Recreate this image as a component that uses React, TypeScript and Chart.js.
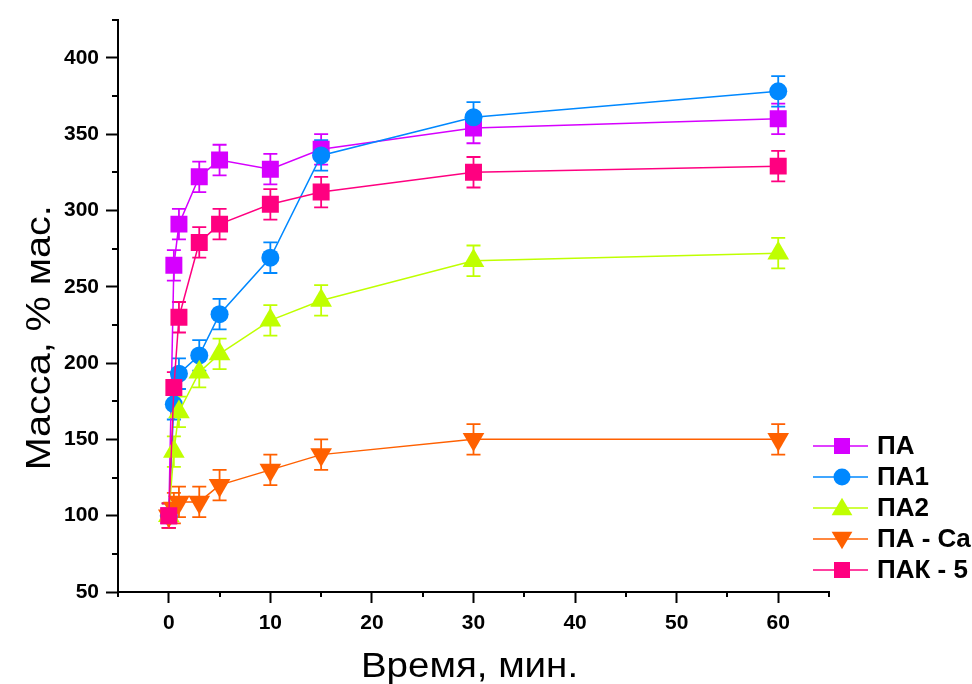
import React, { useEffect, useRef } from 'react';
import { Chart, registerables } from 'chart.js';

Chart.register(...registerables);

// ---- data ----
const times = [0, 0.5, 1, 3, 5, 10, 15, 30, 60];
const seriesNames = ['ПА', 'ПА1', 'ПА2', 'ПА - Ca', 'ПАК - 5'];
const paValues = [100, 264, 291, 322, 333, 327, 340, 354, 360];
const pa1Values = [100, 173, 193, 205, 232, 269, 336, 361, 378];
const pa2Values = [100, 142, 168, 194, 206, 228, 241, 267, 272];
const paCaValues = [100, 105, 109, 109, 120, 130, 140, 150, 150];
const pak5Values = [100, 184, 230, 279, 291, 304, 312, 325, 329];
const paErrors = [8, 10, 10, 10, 10, 10, 10, 10, 10];
const pa1Errors = [8, 10, 10, 10, 10, 10, 10, 10, 10];
const pa2Errors = [8, 10, 10, 10, 10, 10, 10, 10, 10];
const paCaErrors = [8, 10, 10, 10, 10, 10, 10, 10, 10];
const pak5Errors = [8, 10, 10, 10, 10, 10, 10, 10, 10];
const xMin = -5;
const xMax = 65;
const xStep = 5;
const xLabelStep = 10;
const yMin = 50;
const yMax = 425;
const yStep = 25;
const yLabelStep = 50;
const xTitle = 'Время, мин.';
const yTitle = 'Масса, % мас.';

const seriesValues = [paValues, pa1Values, pa2Values, paCaValues, pak5Values];
const seriesErrors = [paErrors, pa1Errors, pa2Errors, paCaErrors, pak5Errors];
const seriesColors = ['#D600FF', '#0088FF', '#BFFF00', '#FF6000', '#FF0080'];
const seriesStyles = ['rect', 'circle', 'triangle', 'triangle', 'rect'];
const seriesRotation = [0, 0, 0, 180, 0];
const seriesRadius = [12, 9, 12.5, 12.5, 12];

const FONT = '"Liberation Sans", Arial, sans-serif';

function isMult(v: number, step: number) {
  return Math.abs(v / step - Math.round(v / step)) < 1e-6;
}

function drawMarker(ctx: CanvasRenderingContext2D, style: string, rot: number, x: number, y: number, color: string) {
  ctx.save();
  ctx.fillStyle = color;
  ctx.beginPath();
  if (style === 'rect') {
    ctx.rect(x - 8, y - 8, 16, 16);
  } else if (style === 'circle') {
    ctx.arc(x, y, 8.5, 0, Math.PI * 2);
  } else {
    const r = 12;
    const dir = rot === 180 ? -1 : 1;
    const w = r * Math.sqrt(3) / 2;
    ctx.moveTo(x, y - dir * r * 0.85);
    ctx.lineTo(x + w, y + dir * r * 0.6);
    ctx.lineTo(x - w, y + dir * r * 0.6);
    ctx.closePath();
  }
  ctx.fill();
  ctx.restore();
}

const errorBarPlugin = {
  id: 'errorBars',
  beforeDatasetsDraw(chart: any) {
    const ctx = chart.ctx;
    const xs = chart.scales.x;
    const ys = chart.scales.y;
    ctx.save();
    seriesValues.forEach((vals, i) => {
      ctx.strokeStyle = seriesColors[i];
      ctx.lineWidth = 1.8;
      vals.forEach((v, j) => {
        const e = seriesErrors[i][j];
        const px = xs.getPixelForValue(times[j]);
        const pt = ys.getPixelForValue(v + e);
        const pb = ys.getPixelForValue(v - e);
        ctx.beginPath();
        ctx.moveTo(px, pt);
        ctx.lineTo(px, pb);
        ctx.moveTo(px - 7, pt);
        ctx.lineTo(px + 7, pt);
        ctx.moveTo(px - 7, pb);
        ctx.lineTo(px + 7, pb);
        ctx.stroke();
      });
    });
    ctx.restore();
  },
};

const decorPlugin = {
  id: 'decor',
  afterDraw(chart: any) {
    const ctx = chart.ctx;
    const xs = chart.scales.x;
    const ys = chart.scales.y;
    const area = chart.chartArea;
    ctx.save();
    // minor ticks
    ctx.strokeStyle = '#000';
    ctx.lineWidth = 2;
    for (let v = xMin; v <= xMax + 1e-6; v += xStep) {
      if (isMult(v, xLabelStep)) continue;
      const px = Math.round(xs.getPixelForValue(v));
      ctx.beginPath();
      ctx.moveTo(px, area.bottom);
      ctx.lineTo(px, area.bottom + 5);
      ctx.stroke();
    }
    for (let v = yMin; v <= yMax + 1e-6; v += yStep) {
      if (isMult(v, yLabelStep)) continue;
      const py = Math.round(ys.getPixelForValue(v));
      ctx.beginPath();
      ctx.moveTo(area.left, py);
      ctx.lineTo(area.left - 6, py);
      ctx.stroke();
    }
    // axis titles
    ctx.fillStyle = '#000';
    ctx.font = `35px ${FONT}`;
    ctx.textAlign = 'center';
    ctx.textBaseline = 'alphabetic';
    ctx.save();
    ctx.translate((area.left + area.right) / 2 - 4, area.bottom + 85);
    ctx.scale(1.1, 1);
    ctx.fillText(xTitle, 0, 0);
    ctx.restore();
    ctx.save();
    ctx.translate(area.left - 68, (area.top + area.bottom) / 2 + 32);
    ctx.rotate(-Math.PI / 2);
    ctx.scale(1.13, 1);
    ctx.fillText(yTitle, 0, 0);
    ctx.restore();
    // legend
    const lx = area.right - 16;
    const ly = area.bottom - 146;
    ctx.font = `bold 26px ${FONT}`;
    ctx.textAlign = 'left';
    ctx.textBaseline = 'middle';
    seriesNames.forEach((name, i) => {
      const y = ly + i * 31;
      ctx.strokeStyle = seriesColors[i];
      ctx.lineWidth = 1.5;
      ctx.beginPath();
      ctx.moveTo(lx, y);
      ctx.lineTo(lx + 55, y);
      ctx.stroke();
      drawMarker(ctx, seriesStyles[i], seriesRotation[i], lx + 29, y, seriesColors[i]);
      ctx.fillStyle = '#000';
      ctx.fillText(name, lx + 64, y + 1);
    });
    ctx.restore();
  },
};

export default function App() {
  const ref = useRef<HTMLCanvasElement | null>(null);
  useEffect(() => {
    if (!ref.current) return;
    const datasets = seriesNames.map((name, i) => ({
      label: name,
      data: times.map((t, j) => ({ x: t, y: seriesValues[i][j] })),
      borderColor: seriesColors[i],
      backgroundColor: seriesColors[i],
      borderWidth: 1.5,
      pointStyle: seriesStyles[i] as any,
      pointRotation: seriesRotation[i],
      pointRadius: seriesRadius[i],
      pointBorderWidth: 0,
      pointBackgroundColor: seriesColors[i],
      pointBorderColor: seriesColors[i],
      tension: 0,
      fill: false,
      order: seriesNames.length - i,
    }));
    const chart = new Chart(ref.current, {
      type: 'line',
      data: { datasets },
      plugins: [errorBarPlugin, decorPlugin],
      options: {
        responsive: false,
        animation: false,
        layout: { padding: { left: 0, top: 19, right: 143, bottom: 0 } },
        plugins: { legend: { display: false }, tooltip: { enabled: false } },
        scales: {
          x: {
            type: 'linear',
            min: xMin,
            max: xMax,
            afterFit: (s: any) => { s.height = 92; },
            border: { display: true, color: '#000', width: 2 },
            grid: {
              drawOnChartArea: false,
              drawTicks: true,
              tickLength: 11,
              tickWidth: 2,
              tickColor: (c: any) => (c.tick && isMult(c.tick.value, xLabelStep) ? '#000' : 'rgba(0,0,0,0)'),
            },
            ticks: {
              stepSize: xStep,
              autoSkip: false,
              maxRotation: 0,
              padding: 8,
              color: '#000',
              font: { family: FONT, size: 21, weight: 'bold' },
              callback: (v: any) => (isMult(Number(v), xLabelStep) && Number(v) >= 0 ? String(v) : ''),
            },
          },
          y: {
            type: 'linear',
            min: yMin,
            max: yMax,
            afterFit: (s: any) => { s.width = 118; },
            border: { display: true, color: '#000', width: 2 },
            grid: {
              drawOnChartArea: false,
              drawTicks: true,
              tickLength: 12,
              tickWidth: 2,
              tickColor: (c: any) => (c.tick && isMult(c.tick.value, yLabelStep) ? '#000' : 'rgba(0,0,0,0)'),
            },
            ticks: {
              stepSize: yStep,
              autoSkip: false,
              padding: 7,
              color: '#000',
              font: { family: FONT, size: 21, weight: 'bold' },
              callback: (v: any) => (isMult(Number(v), yLabelStep) ? String(v) : ''),
            },
          },
        },
      } as any,
    });
    return () => chart.destroy();
  }, []);
  return (
    <div style={{ position: 'absolute', left: 0, top: 0, width: 972, height: 684, background: '#fff' }}>
      <canvas ref={ref} width={972} height={684} style={{ width: 972, height: 684, display: 'block' }} />
    </div>
  );
}
